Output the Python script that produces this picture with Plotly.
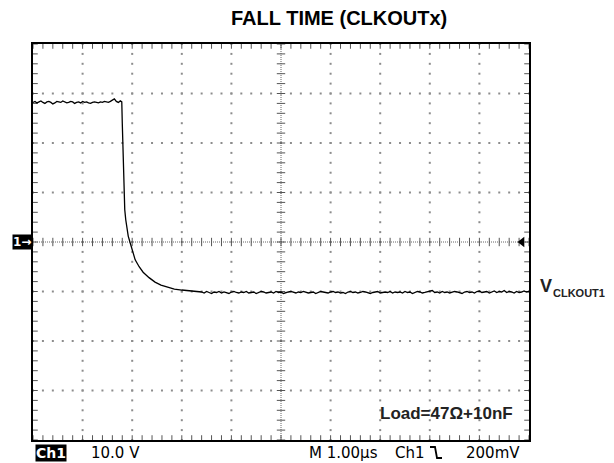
import numpy as np
import plotly.graph_objects as go

# ---------------- data (divisions; x in µs at 1 µs/div) ----------------
hi_x = [round(0.04 * i, 2) for i in range(45)]
hi_y = [2.82, 2.84, 2.81, 2.83, 2.85, 2.82, 2.80, 2.83, 2.84, 2.82, 2.79, 2.81, 2.84, 2.83, 2.82,
        2.85, 2.83, 2.81, 2.82, 2.84, 2.83, 2.80, 2.82, 2.83, 2.81, 2.84, 2.82, 2.83, 2.81, 2.80,
        2.82, 2.83, 2.82, 2.81, 2.83, 2.82, 2.84, 2.83, 2.82, 2.84, 2.86, 2.89, 2.84, 2.82, 2.85]

fall_x = [1.79, 1.80, 1.81, 1.83, 1.85, 1.87, 1.89, 1.92, 1.96, 2.01, 2.06, 2.14, 2.22, 2.34,
          2.46, 2.58, 2.70, 2.85, 3.00, 3.18, 3.37]
fall_y = [2.83, 2.40, 2.00, 1.11, 0.65, 0.45, 0.30, 0.12, -0.02, -0.20, -0.36, -0.50, -0.61, -0.72,
          -0.81, -0.87, -0.91, -0.95, -0.97, -0.99, -1.00]

lo_x = [round(3.40 + 0.05 * i, 2) for i in range(133)]
lo_y = [-1.01, -1.03, -1.00, -1.02, -1.04, -1.01, -1.02, -1.00, -1.03, -1.01,
        -1.02, -1.04, -1.01, -1.00, -1.02, -1.03, -1.01, -1.02, -1.00, -1.03,
        -1.02, -1.01, -1.04, -1.02, -1.00, -1.01, -1.03, -1.02, -1.01, -1.03,
        -1.00, -1.02, -1.01, -1.04, -1.02, -1.01, -1.00, -1.02, -1.03, -1.01,
        -1.02, -1.00, -1.01, -1.03, -1.02, -1.01, -1.04, -1.02, -1.00, -1.01,
        -1.02, -1.03, -1.01, -1.00, -1.02, -1.01, -1.03, -1.02, -1.04, -1.01,
        -1.00, -1.02, -1.01, -1.03, -1.02, -1.00, -1.01, -1.02, -1.04, -1.02,
        -1.01, -1.00, -1.03, -1.02, -1.01, -1.02, -1.00, -1.03, -1.01, -1.02,
        -1.01, -1.03, -1.00, -1.02, -1.01, -1.04, -1.02, -1.00, -1.01, -1.03,
        -1.02, -1.01, -1.00, -0.98, -1.02, -1.01, -1.03, -1.00, -1.02, -1.01,
        -1.03, -1.02, -1.00, -1.01, -1.02, -1.04, -1.01, -1.00, -1.02, -1.01,
        -1.03, -1.00, -0.99, -1.02, -1.01, -1.00, -1.03, -1.01, -0.99, -1.02,
        -1.00, -1.01, -0.98, -1.02, -1.00, -1.01, -1.03, -1.00, -1.02, -1.01,
        -0.99, -1.01, -1.00]

title_text = "FALL TIME (CLKOUTx)"
load_text = "Load=47\u03a9+10nF"
ch_label = "Ch1"
volt_div = "10.0 V"
time_div = "M 1.00\u00b5s"
trig_src = "Ch1"
trig_lvl = "200mV"
sig_main = "V"
sig_sub = "CLKOUT1"

# ---------------- figure ----------------
X0, X1, Y0, Y1 = 0, 10, -4, 4
GRID = "#8c8c8c"
fig = go.Figure()

# grid dots on major division lines
sub = [round(Y0 + 0.2 * i, 2) for i in range(41)]
subx = [round(X0 + 0.2 * i, 2) for i in range(51)]
gx, gy = [], []
for xv in range(1, 10):
    if xv == 5:
        continue
    for yv in sub:
        gx.append(xv); gy.append(yv)
for yv in range(-3, 4):
    if yv == 0:
        continue
    for xv in subx:
        gx.append(xv); gy.append(yv)
fig.add_trace(go.Scatter(x=gx, y=gy, mode="markers", hoverinfo="skip",
                         marker=dict(symbol="square", size=2, color=GRID, line=dict(width=0))))

# center cross lines
fig.add_trace(go.Scatter(x=[X0, X1], y=[0, 0], mode="lines", hoverinfo="skip",
                         line=dict(color="#666666", width=1, dash="1px,1px")))
fig.add_trace(go.Scatter(x=[5, 5], y=[Y0, Y1], mode="lines", hoverinfo="skip",
                         line=dict(color="#666666", width=1, dash="1px,1px")))
fig.add_trace(go.Scatter(x=subx, y=[0] * len(subx), mode="markers", hoverinfo="skip",
                         marker=dict(symbol="line-ns", size=6, line=dict(color="#555555", width=1))))
fig.add_trace(go.Scatter(x=[5] * len(sub), y=sub, mode="markers", hoverinfo="skip",
                         marker=dict(symbol="line-ew", size=6, line=dict(color="#555555", width=1))))

# border ticks (inward)
fig.add_trace(go.Scatter(x=subx + subx, y=[Y1 - 0.04] * len(subx) + [Y0 + 0.04] * len(subx),
                         mode="markers", hoverinfo="skip",
                         marker=dict(symbol="line-ns", size=4, line=dict(color="#555555", width=1))))
fig.add_trace(go.Scatter(x=[X0 + 0.04] * len(sub) + [X1 - 0.04] * len(sub), y=sub + sub,
                         mode="markers", hoverinfo="skip",
                         marker=dict(symbol="line-ew", size=4, line=dict(color="#555555", width=1))))

# waveform
wx = hi_x + fall_x + lo_x
wy = hi_y + fall_y + lo_y
fig.add_trace(go.Scatter(x=wx, y=wy, mode="lines", hoverinfo="skip",
                         line=dict(color="black", width=1.3)))

# trigger level marker
fig.add_trace(go.Scatter(x=[9.86], y=[0], mode="markers", hoverinfo="skip", cliponaxis=False,
                         marker=dict(symbol="triangle-left", size=9, color="black")))

fig.update_xaxes(range=[X0, X1], showgrid=False, zeroline=False, showticklabels=False, ticks="",
                 showline=True, linecolor="black", linewidth=1.5, mirror=True)
fig.update_yaxes(range=[Y0, Y1], showgrid=False, zeroline=False, showticklabels=False, ticks="",
                 showline=True, linecolor="black", linewidth=1.5, mirror=True)

AR = "Liberation Sans, Arial, sans-serif"
SC = "DejaVu Sans, sans-serif"
ann = [
    dict(x=0.617, y=1.066, text="<b>%s</b>" % title_text, xanchor="center", yanchor="middle",
         font=dict(family=AR, size=20, color="black")),
    dict(x=0.6956, y=0.068, text="<b>%s</b>" % load_text, xanchor="left", yanchor="middle",
         font=dict(family=AR, size=17, color="#222222")),
    dict(x=1.018, y=0.389, text="<b>%s</b>" % sig_main, xanchor="left", yanchor="middle",
         font=dict(family=AR, size=18, color="#222222")),
    dict(x=1.044, y=0.37, text="<b>%s</b>" % sig_sub, xanchor="left", yanchor="middle",
         font=dict(family=AR, size=11, color="#222222")),
    dict(x=-0.022, y=0.5, text="<b>1\u2192</b>", xanchor="center", yanchor="middle",
         bgcolor="black", borderpad=0, font=dict(family=SC, size=12, color="white")),
    dict(x=0.037, y=-0.033, text="<b>%s</b>" % ch_label, xanchor="center", yanchor="middle",
         bgcolor="black", borderpad=0, font=dict(family=SC, size=14, color="white")),
    dict(x=0.112, y=-0.033, text=volt_div, xanchor="left", yanchor="middle",
         font=dict(family=SC, size=15, color="black")),
    dict(x=0.552, y=-0.033, text=time_div, xanchor="left", yanchor="middle",
         font=dict(family=SC, size=15, color="black")),
    dict(x=0.726, y=-0.033, text=trig_src, xanchor="left", yanchor="middle",
         font=dict(family=SC, size=15, color="black")),
    dict(x=0.986, y=-0.033, text=trig_lvl, xanchor="right", yanchor="middle",
         font=dict(family=SC, size=15, color="black")),
]
for a in ann:
    a.update(xref="paper", yref="paper", showarrow=False)
fig.update_layout(annotations=ann)

# falling-edge trigger symbol (paper coords relative to plot area 496x396)
px = lambda p: (p - 33) / 496.0
py = lambda p: (440 - p) / 396.0
fig.add_shape(type="path", xref="paper", yref="paper",
              path="M %f %f L %f %f L %f %f L %f %f" % (px(430), py(447), px(435), py(447),
                                                       px(437), py(458), px(442), py(458)),
              line=dict(color="black", width=1.8))

# page body has an 8px margin: shrink the figure so the plot area lands at x 33-529, y 44-440
fig.update_layout(width=606, height=455, margin=dict(l=25, r=85, t=36, b=23),
                  paper_bgcolor="white", plot_bgcolor="white", showlegend=False)
fig.write_html("out.html")
